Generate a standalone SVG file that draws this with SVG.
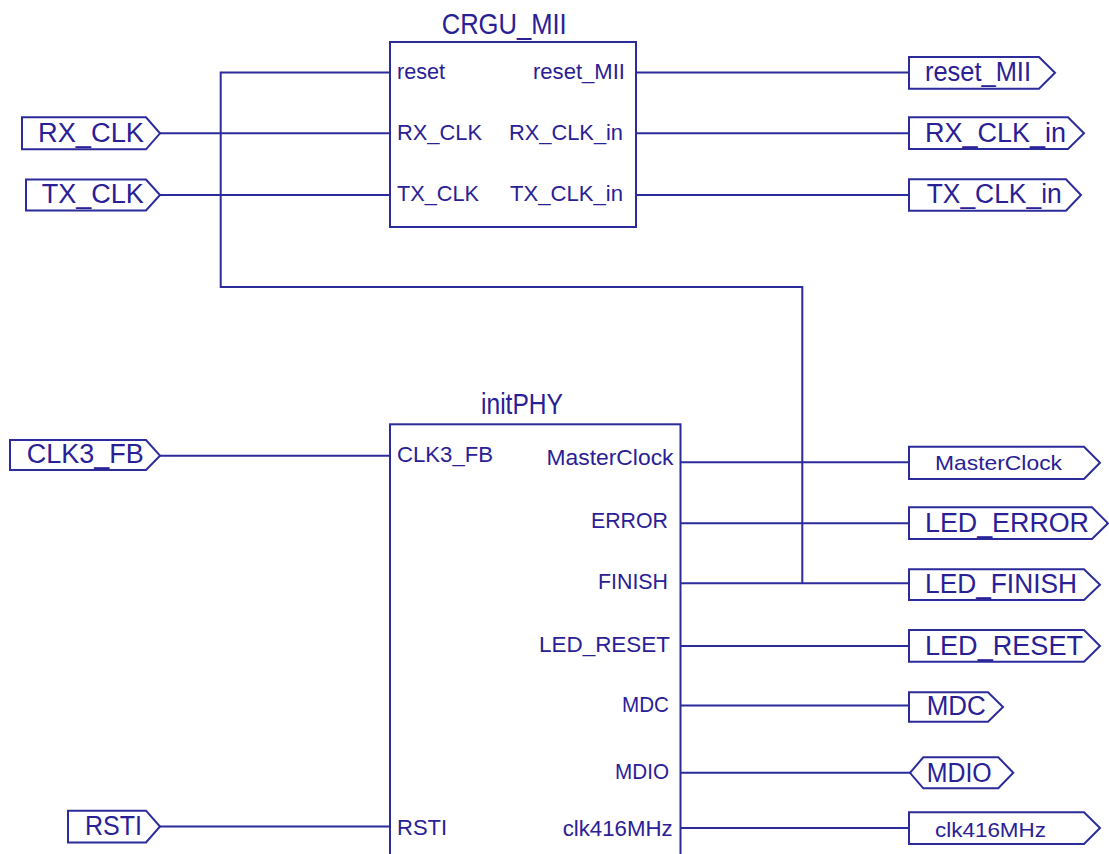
<svg xmlns="http://www.w3.org/2000/svg" width="1109" height="854" viewBox="0 0 1109 854">
<style>
.w{fill:none;stroke:#2b2b9b;stroke-width:2}
.b{fill:#fff;stroke:#2b2b9b;stroke-width:2}
.p{fill:#fff;stroke:#2b2b9b;stroke-width:2;stroke-linejoin:miter}
text{font-family:"Liberation Sans",Arial,sans-serif;fill:#2a2096}
.t{font-size:30px}
.pin{font-size:22px}
.pt{font-size:27px}
.ps{font-size:21px}
</style>
<rect width="1109" height="854" fill="#fff"/>
<g id="connectors">
<path class="w" d="M390,72.5 H220.7 V287 H802.3 V583"/>
<path class="w" d="M160,133.3 H390"/>
<path class="w" d="M160,195 H390"/>
<path class="w" d="M636,72.5 H909"/>
<path class="w" d="M636,133.3 H909"/>
<path class="w" d="M636,195 H909"/>
<path class="w" d="M160,455.7 H390"/>
<path class="w" d="M160,826.5 H390"/>
<path class="w" d="M681,462.3 H909"/>
<path class="w" d="M681,523.3 H909"/>
<path class="w" d="M681,583.3 H909"/>
<path class="w" d="M681,646 H909"/>
<path class="w" d="M681,705.5 H909"/>
<path class="w" d="M681,772.7 H910"/>
<path class="w" d="M681,828 H909"/>
</g>
<g id="CRGU_MII">
<rect class="b" x="390" y="42" width="246" height="185"/>
<text class="t" x="441.7" y="34" textLength="125" lengthAdjust="spacingAndGlyphs">CRGU_MII</text>
<text class="pin" x="397" y="79" textLength="48" lengthAdjust="spacingAndGlyphs">reset</text>
<text class="pin" x="397" y="139.5" textLength="85" lengthAdjust="spacingAndGlyphs">RX_CLK</text>
<text class="pin" x="397" y="201" textLength="82" lengthAdjust="spacingAndGlyphs">TX_CLK</text>
<text class="pin" x="533" y="79" textLength="92" lengthAdjust="spacingAndGlyphs">reset_MII</text>
<text class="pin" x="509" y="139.5" textLength="114" lengthAdjust="spacingAndGlyphs">RX_CLK_in</text>
<text class="pin" x="510" y="201" textLength="113" lengthAdjust="spacingAndGlyphs">TX_CLK_in</text>
</g>
<g id="initPHY">
<rect class="b" x="390" y="424.3" width="290.5" height="440"/>
<text class="t" x="481" y="414" textLength="82" lengthAdjust="spacingAndGlyphs">initPHY</text>
<text class="pin" x="397" y="461.7" textLength="96" lengthAdjust="spacingAndGlyphs">CLK3_FB</text>
<text class="pin" x="397" y="835">RSTI</text>
<text class="pin" x="546.5" y="465" textLength="127" lengthAdjust="spacingAndGlyphs">MasterClock</text>
<text class="pin" x="591" y="528" textLength="77" lengthAdjust="spacingAndGlyphs">ERROR</text>
<text class="pin" x="598" y="589" textLength="70" lengthAdjust="spacingAndGlyphs">FINISH</text>
<text class="pin" x="539" y="651.7" textLength="131" lengthAdjust="spacingAndGlyphs">LED_RESET</text>
<text class="pin" x="622" y="711.7" textLength="47" lengthAdjust="spacingAndGlyphs">MDC</text>
<text class="pin" x="615" y="779" textLength="54" lengthAdjust="spacingAndGlyphs">MDIO</text>
<text class="pin" x="562.7" y="835.7" textLength="110" lengthAdjust="spacingAndGlyphs">clk416MHz</text>
</g>
<g id="port_RX_CLK">
<polygon class="p" points="22,117.3 146,117.3 160,133.3 146,149.3 22,149.3"/>
<text class="pt" x="38" y="141.7" textLength="106" lengthAdjust="spacingAndGlyphs">RX_CLK</text>
</g>
<g id="port_TX_CLK">
<polygon class="p" points="26,179.5 146,179.5 160,195 146,210.5 26,210.5"/>
<text class="pt" x="41.7" y="203" textLength="102" lengthAdjust="spacingAndGlyphs">TX_CLK</text>
</g>
<g id="port_CLK3_FB">
<polygon class="p" points="10,440 146,440 160,455.7 146,470 10,470"/>
<text class="pt" x="26.7" y="462.7" textLength="117" lengthAdjust="spacingAndGlyphs">CLK3_FB</text>
</g>
<g id="port_RSTI">
<polygon class="p" points="68,810.7 146,810.7 160,826.5 146,842.5 68,842.5"/>
<text class="pt" x="85" y="835" textLength="57" lengthAdjust="spacingAndGlyphs">RSTI</text>
</g>
<g id="port_reset_MII">
<polygon class="p" points="909,57 1039,57 1055,72.8 1039,88.7 909,88.7"/>
<text class="pt" x="925" y="80.7" textLength="106" lengthAdjust="spacingAndGlyphs">reset_MII</text>
</g>
<g id="port_RX_CLK_in">
<polygon class="p" points="909,117.3 1068,117.3 1084,133.3 1068,149 909,149"/>
<text class="pt" x="925" y="141.7" textLength="141" lengthAdjust="spacingAndGlyphs">RX_CLK_in</text>
</g>
<g id="port_TX_CLK_in">
<polygon class="p" points="909,179.3 1066,179.3 1081,195 1066,210.7 909,210.7"/>
<text class="pt" x="926.7" y="203" textLength="135" lengthAdjust="spacingAndGlyphs">TX_CLK_in</text>
</g>
<g id="port_MasterClock">
<polygon class="p" points="909,446.7 1084,446.7 1100,462.8 1084,479 909,479"/>
<text class="ps" x="935" y="470" textLength="127" lengthAdjust="spacingAndGlyphs">MasterClock</text>
</g>
<g id="port_LED_ERROR">
<polygon class="p" points="909,507.3 1092,507.3 1108,523.3 1092,539 909,539"/>
<text class="pt" x="925" y="531.7" textLength="164" lengthAdjust="spacingAndGlyphs">LED_ERROR</text>
</g>
<g id="port_LED_FINISH">
<polygon class="p" points="909,569.3 1084,569.3 1100,584.7 1084,600 909,600"/>
<text class="pt" x="925" y="593" textLength="152" lengthAdjust="spacingAndGlyphs">LED_FINISH</text>
</g>
<g id="port_LED_RESET">
<polygon class="p" points="909,630 1084,630 1100,646 1084,661.7 909,661.7"/>
<text class="pt" x="925" y="655" textLength="158" lengthAdjust="spacingAndGlyphs">LED_RESET</text>
</g>
<g id="port_MDC">
<polygon class="p" points="909,692.3 988,692.3 1003,707 988,721.7 909,721.7"/>
<text class="pt" x="926.7" y="715" textLength="59" lengthAdjust="spacingAndGlyphs">MDC</text>
</g>
<g id="port_MDIO">
<polygon class="p" points="910,772.8 923.3,757.3 998.3,757.3 1013.3,772.8 998.3,788.3 923.3,788.3"/>
<text class="pt" x="926.7" y="781.7" textLength="65" lengthAdjust="spacingAndGlyphs">MDIO</text>
</g>
<g id="port_clk416MHz">
<polygon class="p" points="909,812.3 1084,812.3 1100,828 1084,844 909,844"/>
<text class="ps" x="935" y="836.7" textLength="111" lengthAdjust="spacingAndGlyphs">clk416MHz</text>
</g>
</svg>
